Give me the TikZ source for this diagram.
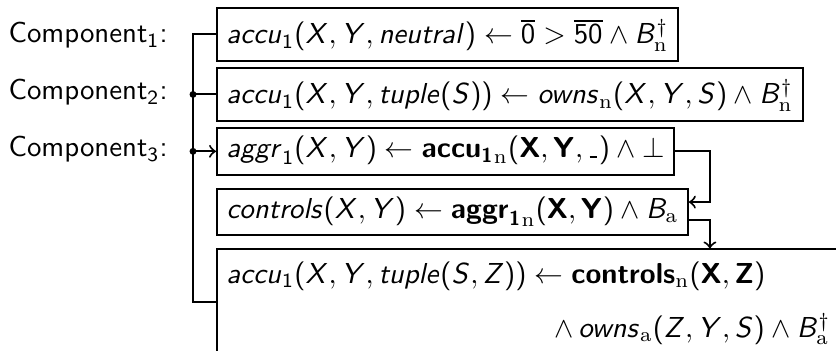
\documentclass[tikz,border=0pt]{standalone}
\usepackage{amsmath,amssymb}
\usepackage{tikz}
\usetikzlibrary{positioning,calc}
\DeclareMathAlphabet{\mathsfit}{OT1}{cmss}{m}{sl}
\DeclareMathAlphabet{\mathsfbf}{OT1}{cmss}{bx}{n}
\DeclareMathAlphabet{\mathsr}{OT1}{cmr}{m}{n}
\SetSymbolFont{operators}{normal}{OT1}{cmss}{m}{n}
\newcommand{\lit}[1]{\mathsfit{#1}}
\newcommand{\hlit}[1]{\mathsfbf{#1}}
\newcommand{\anyarg}{\text{\kern.6pt\rule{2.6pt}{0.45pt}\kern.6pt}}
\tikzset{
  rulebox/.style={draw, line width=0.7pt, anchor=north west, font=\sffamily},
  tallbox/.style={rulebox, text height=9.15pt, text depth=2.55pt},
  flatbox/.style={rulebox, text height=7.0pt, text depth=2.55pt},
  complabel/.style={anchor=base west, inner sep=0pt, font=\sffamily},
  link/.style={line width=0.7pt},
  joint/.style={fill, inner sep=0pt, minimum size=2.4pt, circle}
}
\begin{document}
\begin{tikzpicture}[x=0.3468pt, y=0.3468pt]
\path[use as bounding box, clip] (0,0) rectangle (836,-351);
% component labels
\node[complabel] (comp1) at (8,-43) {Component$_1$:};
\node[complabel] (comp2) at (8,-100) {Component$_2$:};
\node[complabel] (comp3) at (8,-157) {Component$_3$:};
% rules
\node[tallbox] (accuN) at (216,-7)
  {$\lit{accu}_1(\lit{X}, \lit{Y}, \lit{neutral}) \leftarrow \overline{0} > \overline{50} \wedge \lit{B}_{\mathsr{n}}^{\dagger}$};
\node[tallbox, below=1.73pt of accuN.south west, anchor=north west] (accuT)
  {$\lit{accu}_1(\lit{X}, \lit{Y}, \lit{tuple}(\lit{S})) \leftarrow \lit{owns}_{\mathsr{n}}(\lit{X}, \lit{Y}, \lit{S}) \wedge \lit{B}_{\mathsr{n}}^{\dagger}$};
\node[flatbox, below=1.73pt of accuT.south west, anchor=north west] (aggr)
  {$\lit{aggr}_1(\lit{X}, \lit{Y}) \leftarrow {\hlit{accu}_{\hlit{1}}}_{\mathsr{n}}(\hlit{X}, \hlit{Y}, \anyarg) \wedge \bot$};
\node[flatbox, below=4.16pt of aggr.south west, anchor=north west] (ctrl)
  {$\lit{controls}(\lit{X}, \lit{Y}) \leftarrow {\hlit{aggr}_{\hlit{1}}}_{\mathsr{n}}(\hlit{X}, \hlit{Y}) \wedge \lit{B}_{\mathsr{a}}$};
\node[rulebox, below=4.16pt of ctrl.south west, anchor=north west, text width=209.4pt, align=left] (accuZ)
  {\rule{0pt}{8.5pt}$\lit{accu}_1(\lit{X}, \lit{Y}, \lit{tuple}(\lit{S}, \lit{Z})) \leftarrow \hlit{controls}_{\mathsr{n}}(\hlit{X}, \hlit{Z})$\\[6.7pt]
   \hspace*{\fill}$\wedge\, \lit{owns}_{\mathsr{a}}(\lit{Z}, \lit{Y}, \lit{S}) \wedge \lit{B}_{\mathsr{a}}^{\dagger}$\rule[-2.55pt]{0pt}{1pt}};
% connectors
\coordinate (spine) at ($(accuN.west)+(-23,0)$);
\coordinate (rail) at ($(ctrl.east)+(21,0)$);
\coordinate (in4) at ($(ctrl.east)+(0,10)$);
\coordinate (out4) at ($(ctrl.east)+(0,-8)$);
\draw[link] (accuN.west) -- (accuN.west -| spine) -- (accuZ.west -| spine) -- (accuZ.west);
\draw[link] (accuT.west -| spine) -- (accuT.west);
\draw[link, ->] (aggr.west -| spine) -- (aggr.west);
\node[joint] (j2) at (accuT.west -| spine) {};
\node[joint] (j3) at (aggr.west -| spine) {};
\draw[link, ->] (aggr.east) -| (in4 -| rail) -- (in4);
\draw[link, ->] (out4) -| (accuZ.north -| rail);
\end{tikzpicture}
\end{document}
